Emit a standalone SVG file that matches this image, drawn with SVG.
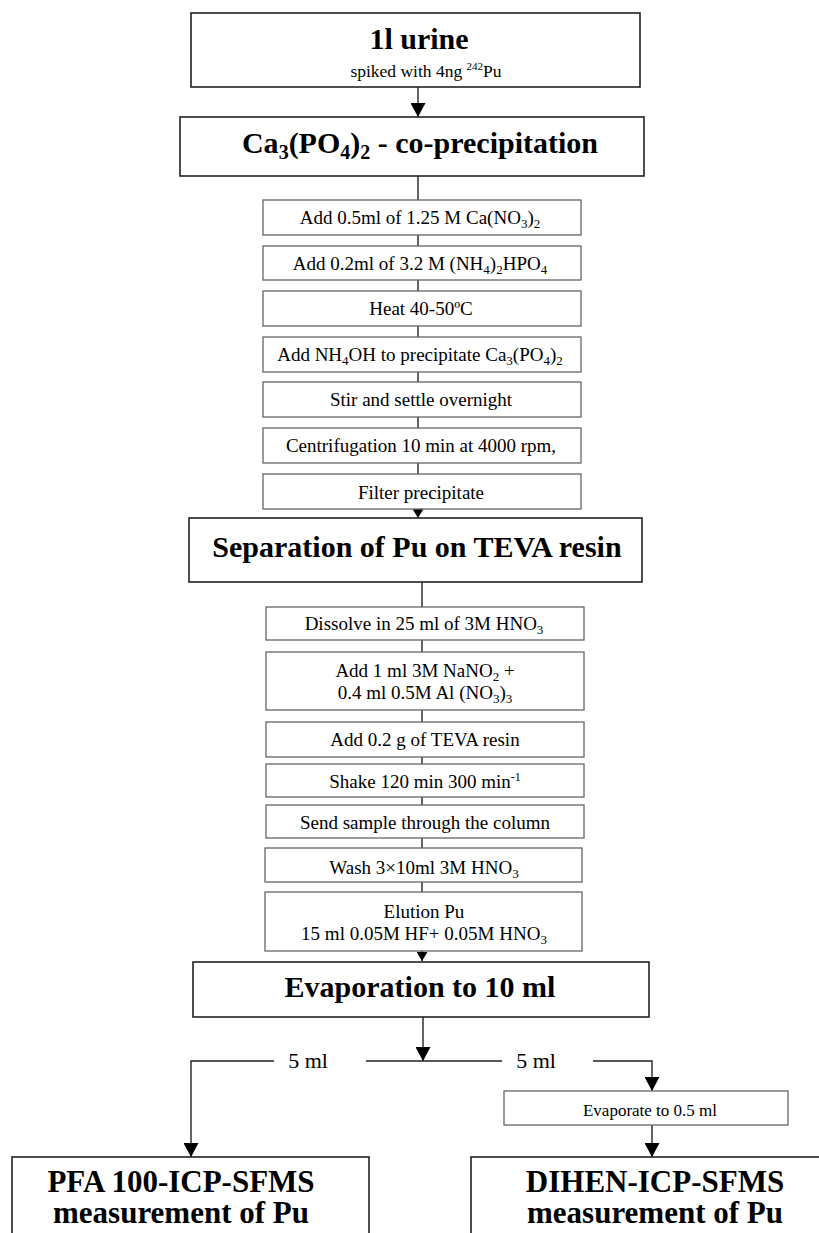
<svg xmlns="http://www.w3.org/2000/svg" width="819" height="1233" viewBox="0 0 819 1233">
<style>
text{font-family:"Liberation Serif","Times New Roman",serif;fill:#000;text-anchor:middle}
.h{font-size:30px;font-weight:bold}
.f{font-size:31px;font-weight:bold}
.s{font-size:19px}
.ml{font-size:22px}
.big{fill:#fff;stroke:#222;stroke-width:1.6}
.sm{fill:#fff;stroke:#666;stroke-width:1.3}
.c{fill:none;stroke:#222;stroke-width:1.4}
</style>
<defs>
<marker id="ah" markerWidth="14" markerHeight="15" refX="14" refY="7.5" orient="auto" markerUnits="userSpaceOnUse"><path d="M0,0 L14,7.5 L0,15 z" fill="#000"/></marker>
<marker id="ahs" markerWidth="9" markerHeight="11" refX="9" refY="5.5" orient="auto" markerUnits="userSpaceOnUse"><path d="M0,0 L9,5.5 L0,11 z" fill="#000"/></marker>
</defs>
<g id="connectors">
<line class="c" x1="418" y1="87" x2="418" y2="117" marker-end="url(#ah)"/>
<line class="c" x1="418" y1="176" x2="418" y2="200"/>
<line class="c" x1="418" y1="235" x2="418" y2="246"/>
<line class="c" x1="418" y1="280" x2="418" y2="291"/>
<line class="c" x1="418" y1="326" x2="418" y2="337"/>
<line class="c" x1="418" y1="372" x2="418" y2="382"/>
<line class="c" x1="418" y1="417" x2="418" y2="428"/>
<line class="c" x1="418" y1="463" x2="418" y2="474"/>
<line class="c" x1="418" y1="509" x2="418" y2="518" marker-end="url(#ahs)"/>
<line class="c" x1="422" y1="582" x2="422" y2="607"/>
<line class="c" x1="422" y1="640" x2="422" y2="652"/>
<line class="c" x1="422" y1="710" x2="422" y2="722"/>
<line class="c" x1="422" y1="757" x2="422" y2="764"/>
<line class="c" x1="422" y1="797" x2="422" y2="805"/>
<line class="c" x1="422" y1="838" x2="422" y2="848"/>
<line class="c" x1="422" y1="882" x2="422" y2="892"/>
<line class="c" x1="422" y1="951" x2="422" y2="961" marker-end="url(#ahs)"/>
<line class="c" x1="423" y1="1017" x2="423" y2="1061" marker-end="url(#ah)"/>
<polyline class="c" points="274,1061 191,1061 191,1157" marker-end="url(#ah)"/>
<line class="c" x1="366" y1="1061" x2="502" y2="1061"/>
<polyline class="c" points="593,1061 652,1061 652,1091" marker-end="url(#ah)"/>
<line class="c" x1="652" y1="1125" x2="652" y2="1157" marker-end="url(#ah)"/>
<text class="ml" x="308" y="1068">5 ml</text>
<text class="ml" x="536" y="1068">5 ml</text>
</g>
<g id="urine">
<rect class="big" x="191" y="13" width="449" height="74"/>
<text class="h" x="419" y="49">1l urine</text>
<text x="426" y="77" style="font-size:17.5px">spiked with 4ng <tspan font-size="11" dy="-7">242</tspan><tspan dy="7">Pu</tspan></text>
</g>
<g id="coprecip">
<rect class="big" x="180" y="117" width="464" height="59"/>
<text class="h" x="420" y="153">Ca<tspan font-size="20" dy="6">3</tspan><tspan dy="-6">(PO</tspan><tspan font-size="20" dy="6">4</tspan><tspan dy="-6">)</tspan><tspan font-size="20" dy="6">2</tspan><tspan dy="-6">  - co-precipitation</tspan></text>
</g>
<g id="s1"><rect class="sm" x="263" y="200" width="318" height="35"/>
<text class="s" x="420" y="224">Add 0.5ml of 1.25 M Ca(NO<tspan font-size="13" dy="4">3</tspan><tspan dy="-4">)</tspan><tspan font-size="13" dy="4">2</tspan></text></g>
<g id="s2"><rect class="sm" x="263" y="246" width="318" height="34"/>
<text class="s" x="420" y="270">Add 0.2ml of 3.2 M (NH<tspan font-size="13" dy="4">4</tspan><tspan dy="-4">)</tspan><tspan font-size="13" dy="4">2</tspan><tspan dy="-4">HPO</tspan><tspan font-size="13" dy="4">4</tspan></text></g>
<g id="s3"><rect class="sm" x="263" y="291" width="318" height="35"/>
<text class="s" x="421" y="315">Heat 40-50ºC</text></g>
<g id="s4"><rect class="sm" x="263" y="337" width="318" height="35"/>
<text class="s" x="420" y="361">Add NH<tspan font-size="13" dy="4">4</tspan><tspan dy="-4">OH to precipitate Ca</tspan><tspan font-size="13" dy="4">3</tspan><tspan dy="-4">(PO</tspan><tspan font-size="13" dy="4">4</tspan><tspan dy="-4">)</tspan><tspan font-size="13" dy="4">2</tspan></text></g>
<g id="s5"><rect class="sm" x="263" y="382" width="318" height="35"/>
<text class="s" x="421" y="406">Stir and settle overnight</text></g>
<g id="s6"><rect class="sm" x="263" y="428" width="318" height="35"/>
<text class="s" x="421" y="452">Centrifugation 10 min at 4000 rpm,</text></g>
<g id="s7"><rect class="sm" x="263" y="474" width="318" height="35"/>
<text class="s" x="421" y="499">Filter precipitate</text></g>
<g id="separation">
<rect class="big" x="189" y="518" width="453" height="64"/>
<text class="h" x="417" y="557">Separation of Pu on TEVA resin</text>
</g>
<g id="t1"><rect class="sm" x="266" y="607" width="318" height="33"/>
<text class="s" x="424" y="630">Dissolve in 25 ml of 3M HNO<tspan font-size="13" dy="4">3</tspan></text></g>
<g id="t2"><rect class="sm" x="266" y="652" width="318" height="58"/>
<text class="s" x="425" y="677">Add 1 ml 3M NaNO<tspan font-size="13" dy="4">2</tspan><tspan dy="-4"> +</tspan></text>
<text class="s" x="425" y="699">0.4 ml 0.5M Al (NO<tspan font-size="13" dy="4">3</tspan><tspan dy="-4">)</tspan><tspan font-size="13" dy="4">3</tspan></text></g>
<g id="t3"><rect class="sm" x="266" y="722" width="318" height="35"/>
<text class="s" x="425" y="746">Add 0.2 g of TEVA resin</text></g>
<g id="t4"><rect class="sm" x="266" y="764" width="318" height="33"/>
<text class="s" x="425" y="788">Shake 120 min 300 min<tspan font-size="12" dy="-7">-1</tspan></text></g>
<g id="t5"><rect class="sm" x="266" y="805" width="318" height="33"/>
<text class="s" x="425" y="829">Send sample through the column</text></g>
<g id="t6"><rect class="sm" x="265" y="848" width="317" height="34"/>
<text class="s" x="424" y="874">Wash 3×10ml 3M HNO<tspan font-size="13" dy="4">3</tspan></text></g>
<g id="t7"><rect class="sm" x="265" y="892" width="317" height="59"/>
<text class="s" x="424" y="918">Elution Pu</text>
<text class="s" x="424" y="940">15 ml 0.05M HF+ 0.05M HNO<tspan font-size="13" dy="4">3</tspan></text></g>
<g id="evap10">
<rect class="big" x="193" y="962" width="456" height="55"/>
<text class="h" x="420" y="997">Evaporation to 10 ml</text>
</g>
<g id="evap05">
<rect class="sm" x="504" y="1091" width="284" height="34"/>
<text x="650" y="1116" style="font-size:17px">Evaporate to 0.5 ml</text>
</g>
<g id="pfa">
<rect class="big" x="12" y="1157" width="357" height="90"/>
<text class="f" x="181" y="1192">PFA 100-ICP-SFMS</text>
<text class="f" x="181" y="1223">measurement of Pu</text>
</g>
<g id="dihen">
<rect class="big" x="471" y="1157" width="360" height="90"/>
<text class="f" x="655" y="1192">DIHEN-ICP-SFMS</text>
<text class="f" x="655" y="1223">measurement of Pu</text>
</g>
</svg>
